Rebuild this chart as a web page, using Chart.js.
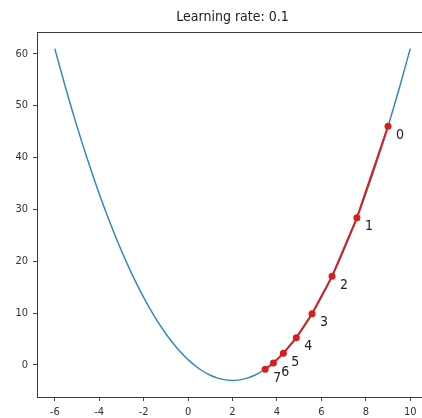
<!DOCTYPE html>
<html>
<head>
<meta charset="utf-8">
<script src="https://cdn.jsdelivr.net/npm/chart.js@4.4.1/dist/chart.umd.min.js"></script>
<style>
  html, body { margin: 0; padding: 0; background: #fff; overflow: hidden; }
  #wrap { width: 422px; height: 418px; overflow: hidden; position: relative; }
  #box { width: 440px; height: 418px; }
</style>
</head>
<body>
<div id="wrap"><div id="box"><canvas id="c"></canvas></div></div>
<script>
// Loss curve f(x) sampled every 0.5
const curveX = [-6, -5.5, -5, -4.5, -4, -3.5, -3, -2.5, -2, -1.5, -1, -0.5, 0, 0.5, 1, 1.5, 2,
                2.5, 3, 3.5, 4, 4.5, 5, 5.5, 6, 6.5, 7, 7.5, 8, 8.5, 9, 9.5, 10];
const curveY = [61, 53.25, 46, 39.25, 33, 27.25, 22, 17.25, 13, 9.25, 6, 3.25, 1, -0.75, -2, -2.75, -3,
                -2.75, -2, -0.75, 1, 3.25, 6, 9.25, 13, 17.25, 22, 27.25, 33, 39.25, 46, 53.25, 61];

// Gradient descent steps
const stepX = [9, 7.6, 6.48, 5.58, 4.87, 4.29, 3.84, 3.47];
const stepY = [46, 28.36, 17.07, 9.85, 5.22, 2.26, 0.37, -0.85];
const stepLabels = ['0', '1', '2', '3', '4', '5', '6', '7'];

const xTicks = [-6, -4, -2, 0, 2, 4, 6, 8, 10];
const yTicks = [0, 10, 20, 30, 40, 50, 60];
const titleText = 'Learning rate: 0.1';

const FONT = '"DejaVu Sans Condensed", "Liberation Sans Narrow", "DejaVu Sans", sans-serif';

const frame = {
  id: 'frame',
  afterDraw(chart) {
    const { ctx, chartArea: a } = chart;
    ctx.save();
    ctx.strokeStyle = '#3a3a3a';
    ctx.lineWidth = 1;
    ctx.strokeRect(a.left + 0.5, a.top + 0.5, a.right - a.left, a.bottom - a.top);
    // title
    ctx.fillStyle = '#222';
    ctx.font = '14px ' + FONT;
    ctx.textAlign = 'center';
    ctx.textBaseline = 'middle';
    ctx.fillText(titleText, (a.left + a.right) / 2, 17);
    // step labels
    const xs = chart.scales.x, ys = chart.scales.y;
    ctx.font = '14px ' + FONT;
    ctx.fillStyle = '#222';
    stepLabels.forEach((t, i) => {
      const px = xs.getPixelForValue(stepX[i]);
      const py = ys.getPixelForValue(stepY[i]);
      ctx.fillText(t, px + 12, py + 9);
    });
    ctx.restore();
  }
};

new Chart(document.getElementById('c'), {
  type: 'scatter',
  data: {
    datasets: [
      {
        data: curveX.map((x, i) => ({ x, y: curveY[i] })),
        showLine: true,
        borderColor: '#3589b8',
        borderWidth: 1.5,
        pointRadius: 0,
        cubicInterpolationMode: 'monotone',
        order: 2
      },
      {
        data: stepX.map((x, i) => ({ x, y: stepY[i] })),
        showLine: true,
        borderColor: '#d81e1e',
        backgroundColor: '#d81e1e',
        borderWidth: 2,
        pointRadius: 3.5,
        pointBorderWidth: 0,
        order: 1
      }
    ]
  },
  options: {
    responsive: true,
    maintainAspectRatio: false,
    animation: false,
    layout: { padding: { left: 0, right: 12, top: 32, bottom: 0 } },
    plugins: { legend: { display: false }, tooltip: { enabled: false }, title: { display: false } },
    scales: {
      x: {
        type: 'linear',
        min: -6.8, max: 10.8,
        afterBuildTicks: s => { s.ticks = xTicks.map(v => ({ value: v })); },
        afterFit: s => { s.height = 21; },
        grid: { drawOnChartArea: false, drawTicks: true, tickLength: 4, tickColor: '#444' },
        border: { display: false },
        ticks: { color: '#333', font: { family: FONT, size: 11 }, padding: 5, maxRotation: 0 }
      },
      y: {
        type: 'linear',
        min: -6.2, max: 64.2,
        afterBuildTicks: s => { s.ticks = yTicks.map(v => ({ value: v })); },
        afterFit: s => { s.width = 37; },
        grid: { drawOnChartArea: false, drawTicks: true, tickLength: 4, tickColor: '#444' },
        border: { display: false },
        ticks: { color: '#333', font: { family: FONT, size: 11 }, padding: 5 }
      }
    }
  },
  plugins: [frame]
});
</script>
</body>
</html>
